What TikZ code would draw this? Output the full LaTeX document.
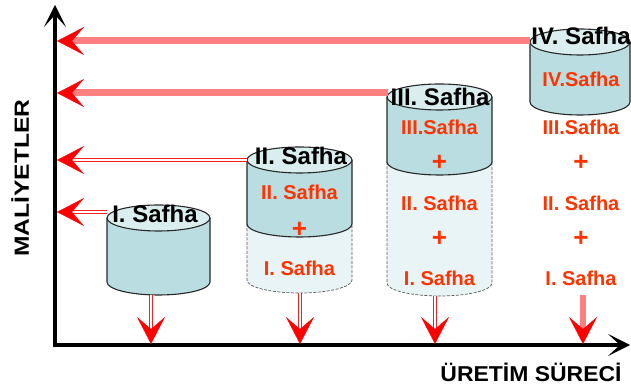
\documentclass[tikz,border=0pt]{standalone}
\usepackage{fontspec}
\setmainfont{Liberation Sans}
\usetikzlibrary{arrows.meta}
\definecolor{bodyc}{RGB}{185,221,225}
\definecolor{topc}{RGB}{218,238,240}
\definecolor{lightc}{RGB}{232,244,246}
\definecolor{txtred}{RGB}{255,51,0}
\definecolor{salmon}{RGB}{255,128,128}
\definecolor{arrred}{RGB}{255,30,30}
\definecolor{edgec}{RGB}{40,40,40}
\definecolor{dashc}{RGB}{90,90,90}
\tikzset{
  cylline/.style={draw=edgec, line width=1.1pt},
  dashline/.style={draw=dashc, line width=0.7pt, dash pattern=on 3pt off 1.5pt},
  blab/.style={font=\bfseries\fontsize{24}{28}\selectfont, text=black, inner sep=0pt},
  rlab/.style={font=\bfseries\fontsize{20}{24}\selectfont, text=txtred, inner sep=0pt},
  axislab/.style={font=\bfseries\fontsize{20.5}{24}\selectfont, text=black, inner sep=0pt},
  axisline/.style={draw=black, line width=3.5pt, line join=miter,
    {Stealth[length=22pt,width=22pt,inset=12pt]}-{Stealth[length=22pt,width=22pt,inset=12pt]}},
  thickshaft/.style={draw=salmon, line width=7pt, shorten >=14pt},
  dblshaft/.style={draw=arrred, line width=1.3pt, double=white, double distance=1.8pt, shorten >=14pt},
  redhead/.style={draw=red, fill=red, line width=0.3pt, -{Stealth[length=27pt,width=28pt,inset=12pt]}},
}
% cx, top, bottom, rx
\newcommand{\solidcyl}[4]{%
  \fill[bodyc] ({#1-#4},#2) -- ({#1-#4},#3) arc[start angle=180,end angle=360,x radius=#4pt,y radius=13pt] -- ({#1+#4},#2) -- cycle;
  \draw[cylline] ({#1-#4},#2) -- ({#1-#4},#3) arc[start angle=180,end angle=360,x radius=#4pt,y radius=13pt] -- ({#1+#4},#2);
  \draw[cylline, fill=topc] (#1,#2) ellipse[x radius=#4pt, y radius=13pt];
}
% cx, top, bottom, rx
\newcommand{\ghostcyl}[4]{%
  \fill[lightc] ({#1-#4},#2) -- ({#1-#4},#3) arc[start angle=180,end angle=360,x radius=#4pt,y radius=13pt] -- ({#1+#4},#2) -- cycle;
  \draw[dashline] ({#1-#4},#2) -- ({#1-#4},#3) arc[start angle=180,end angle=360,x radius=#4pt,y radius=13pt] -- ({#1+#4},#2);
}
\begin{document}
\begin{tikzpicture}[x=1pt,y=1pt]
\useasboundingbox (0,0) rectangle (631,390);
\fill[white] (0,0) rectangle (631,390);

% cylinders
\ghostcyl{299.5}{166}{110}{52.5}
\ghostcyl{439.5}{228}{107}{52.5}
\solidcyl{158.5}{172}{108}{51.5}
\solidcyl{299.5}{230}{166}{52.5}
\solidcyl{439.5}{293}{228}{52.5}
\solidcyl{580}{348}{288}{50}

% axes
\coordinate (ytop) at (55,385);
\coordinate (orig) at (55,45);
\coordinate (xtip) at (630,45);
\draw[axisline] (ytop) -- (orig) -- (xtip);

% arrow end points on the axes
\coordinate (yA) at (57,349);
\coordinate (yB) at (57,297);
\coordinate (yC) at (57,230);
\coordinate (yD) at (57,178);
\coordinate (xA) at (151,46);
\coordinate (xB) at (300,46);
\coordinate (xC) at (435,46);
\coordinate (xD) at (583,46);
% arrow start points on the cylinders
\coordinate (cIV) at (530,349);
\coordinate (cIII) at (388,297);
\coordinate (cII) at (247,230);
\coordinate (cI) at (107,178);
\coordinate (bI) at (151,95);
\coordinate (bII) at (300,97);
\coordinate (bIII) at (435,94);
\coordinate (bIV) at (583,95);

% horizontal arrows
\draw[thickshaft] (cIV) -- (yA);
\draw[redhead] ([xshift=6pt]yA) -- (yA);
\draw[thickshaft] (cIII) -- (yB);
\draw[redhead] ([xshift=6pt]yB) -- (yB);
\draw[dblshaft] (cII) -- (yC);
\draw[redhead] ([xshift=6pt]yC) -- (yC);
\draw[dblshaft] (cI) -- (yD);
\draw[redhead] ([xshift=6pt]yD) -- (yD);

% vertical arrows
\draw[dblshaft] (bI) -- (xA);
\draw[redhead] ([yshift=6pt]xA) -- (xA);
\draw[dblshaft] (bII) -- (xB);
\draw[redhead] ([yshift=6pt]xB) -- (xB);
\draw[dblshaft] (bIII) -- (xC);
\draw[redhead] ([yshift=6pt]xC) -- (xC);
\draw[thickshaft, line width=6.5pt] (bIV) -- (xD);
\draw[redhead] ([yshift=6pt]xD) -- (xD);

% black labels
\node[blab] (lI) at (155,176) {I. Safha};
\node[blab] (lII) at (301,234) {II. Safha};
\node[blab] (lIII) at (440,293) {III. Safha};
\node[blab] (lIV) at (581,354) {IV. Safha};

% red texts
\node[rlab] (r2a) at (299.5,198) {II. Safha};
\node[rlab] (r2b) at (299.5,160) {\scalebox{1.3}{+}};
\node[rlab] (r2c) at (299.5,122) {I. Safha};

\node[rlab] (r3a) at (439.5,263) {III.Safha};
\node[rlab] (r3b) at (439.5,227) {\scalebox{1.3}{+}};
\node[rlab] (r3c) at (439.5,187) {II. Safha};
\node[rlab] (r3d) at (439.5,151) {\scalebox{1.3}{+}};
\node[rlab] (r3e) at (439.5,112) {I. Safha};

\node[rlab] (r4a) at (581,311) {IV.Safha};
\node[rlab] (r4b) at (581,263) {III.Safha};
\node[rlab] (r4c) at (581,227) {\scalebox{1.3}{+}};
\node[rlab] (r4d) at (581,187) {II. Safha};
\node[rlab] (r4e) at (581,151) {\scalebox{1.3}{+}};
\node[rlab] (r4f) at (581,112) {I. Safha};

% axis labels
\node[axislab, rotate=90] (ylab) at (20,212) {\scalebox{1.2}[1]{MALİYETLER}};
\node[axislab] (xlab) at (531,18) {\scalebox{1.12}[1.05]{ÜRETİM SÜRECİ}};
\end{tikzpicture}
\end{document}
